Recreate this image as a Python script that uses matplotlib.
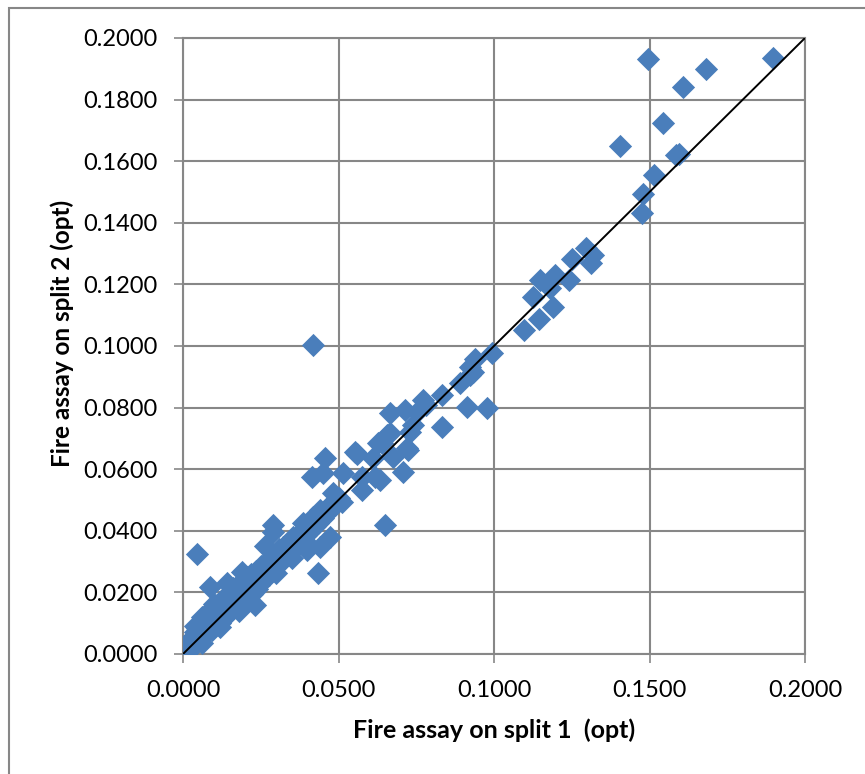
import numpy as np
import matplotlib.pyplot as plt
from matplotlib.patches import Rectangle

# split 1 / split 2 fire assay values (opt)
# dense band near the 1:1 line
low_x = [0.0000, 0.0005, 0.0008, 0.0010, 0.0012, 0.0015, 0.0018, 0.0020, 0.0022, 0.0025,
         0.0028, 0.0030, 0.0033, 0.0035, 0.0038, 0.0040, 0.0043, 0.0045, 0.0048, 0.0050,
         0.0053, 0.0055, 0.0058, 0.0060, 0.0063, 0.0065, 0.0068, 0.0070, 0.0073, 0.0075,
         0.0078, 0.0080, 0.0083, 0.0085, 0.0088, 0.0090, 0.0093, 0.0095, 0.0098, 0.0100,
         0.0103, 0.0105, 0.0108, 0.0110, 0.0113, 0.0115, 0.0118, 0.0120, 0.0123, 0.0125,
         0.0128, 0.0130, 0.0133, 0.0135, 0.0138, 0.0140, 0.0143, 0.0145, 0.0148, 0.0150,
         0.0155, 0.0160, 0.0163, 0.0165, 0.0170, 0.0175, 0.0178, 0.0180, 0.0185, 0.0190,
         0.0193, 0.0195, 0.0200, 0.0205, 0.0208, 0.0210, 0.0215, 0.0220, 0.0223, 0.0225,
         0.0230, 0.0235, 0.0238, 0.0240, 0.0245, 0.0250, 0.0255, 0.0260, 0.0265, 0.0270,
         0.0275, 0.0280, 0.0285, 0.0290, 0.0295, 0.0300, 0.0305, 0.0310, 0.0315, 0.0320,
         0.0325, 0.0330, 0.0335, 0.0340, 0.0345, 0.0350, 0.0355, 0.0360, 0.0365, 0.0370,
         0.0375, 0.0380, 0.0385, 0.0390, 0.0395, 0.0400, 0.0405, 0.0410, 0.0415, 0.0420,
         0.0425, 0.0430, 0.0435, 0.0440, 0.0450, 0.0460, 0.0470, 0.0480, 0.0490, 0.0500,
         0.0060, 0.0120, 0.0180, 0.0231, 0.0300, 0.0350, 0.0400, 0.0040, 0.0100, 0.0160]
low_y = [0.0002, 0.0010, 0.0003, 0.0018, 0.0006, 0.0025, 0.0012, 0.0035, 0.0015, 0.0042,
         0.0020, 0.0052, 0.0028, 0.0060, 0.0032, 0.0070, 0.0040, 0.0085, 0.0045, 0.0075,
         0.0050, 0.0100, 0.0060, 0.0120, 0.0065, 0.0090, 0.0075, 0.0110, 0.0080, 0.0125,
         0.0070, 0.0105, 0.0085, 0.0140, 0.0095, 0.0118, 0.0078, 0.0130, 0.0100, 0.0150,
         0.0090, 0.0120, 0.0105, 0.0160, 0.0115, 0.0135, 0.0100, 0.0170, 0.0125, 0.0145,
         0.0115, 0.0180, 0.0135, 0.0160, 0.0125, 0.0190, 0.0145, 0.0170, 0.0135, 0.0200,
         0.0155, 0.0210, 0.0150, 0.0185, 0.0165, 0.0220, 0.0160, 0.0195, 0.0175, 0.0235,
         0.0170, 0.0210, 0.0190, 0.0250, 0.0185, 0.0225, 0.0200, 0.0260, 0.0195, 0.0235,
         0.0215, 0.0270, 0.0210, 0.0250, 0.0225, 0.0285, 0.0240, 0.0265, 0.0250, 0.0300,
         0.0255, 0.0285, 0.0270, 0.0320, 0.0285, 0.0300, 0.0290, 0.0340, 0.0305, 0.0320,
         0.0310, 0.0355, 0.0325, 0.0340, 0.0330, 0.0370, 0.0345, 0.0360, 0.0350, 0.0385,
         0.0365, 0.0380, 0.0370, 0.0405, 0.0385, 0.0400, 0.0395, 0.0425, 0.0405, 0.0430,
         0.0415, 0.0445, 0.0425, 0.0450, 0.0440, 0.0470, 0.0465, 0.0490, 0.0485, 0.0505,
         0.0035, 0.0088, 0.0140, 0.0159, 0.0262, 0.0312, 0.0362, 0.0092, 0.0162, 0.0215]

# scattered points, mid and upper range plus outliers
high_x = [0.0046, 0.0087, 0.0141, 0.0189, 0.0264, 0.0290, 0.0290, 0.0355, 0.0323, 0.0398,
          0.0441, 0.0435, 0.0473, 0.0414, 0.0418, 0.0387, 0.0419, 0.0467, 0.0441, 0.0483,
          0.0510, 0.0457, 0.0451, 0.0553, 0.0560, 0.0515, 0.0575, 0.0575, 0.0617, 0.0633,
          0.0612, 0.0628, 0.0639, 0.0655, 0.0666, 0.0666, 0.0676, 0.0650, 0.0708, 0.0714,
          0.0719, 0.0725, 0.0730, 0.0741, 0.0751, 0.0773, 0.0780, 0.0832, 0.0832, 0.0891,
          0.0923, 0.0933, 0.0939, 0.0923, 0.0993, 0.0912, 0.0977, 0.1096, 0.1146, 0.1126,
          0.1191, 0.1148, 0.1180, 0.1196, 0.1242, 0.1250, 0.1296, 0.1311, 0.1318, 0.1475,
          0.1480, 0.1516, 0.1585, 0.1595, 0.1405, 0.1544, 0.1607, 0.1682, 0.1496, 0.1896]
high_y = [0.0325, 0.0217, 0.0230, 0.0267, 0.0351, 0.0419, 0.0396, 0.0381, 0.0348, 0.0338,
          0.0348, 0.0263, 0.0381, 0.0576, 0.1002, 0.0424, 0.0446, 0.0468, 0.0468, 0.0522,
          0.0494, 0.0635, 0.0587, 0.0657, 0.0650, 0.0587, 0.0576, 0.0532, 0.0576, 0.0565,
          0.0635, 0.0684, 0.0684, 0.0711, 0.0717, 0.0781, 0.0641, 0.0419, 0.0592, 0.0792,
          0.0668, 0.0662, 0.0722, 0.0744, 0.0787, 0.0825, 0.0810, 0.0841, 0.0738, 0.0879,
          0.0906, 0.0917, 0.0957, 0.0933, 0.0976, 0.0801, 0.0798, 0.1052, 0.1089, 0.1158,
          0.1126, 0.1214, 0.1187, 0.1231, 0.1214, 0.1281, 0.1317, 0.1271, 0.1296, 0.1433,
          0.1494, 0.1555, 0.1620, 0.1625, 0.1649, 0.1725, 0.1840, 0.1899, 0.1931, 0.1934]

split1 = low_x + high_x
split2 = low_y + high_y

y_ticks = np.arange(0, 0.2001, 0.02)
x_ticks = np.arange(0, 0.2001, 0.05)

plt.rcParams['font.family'] = ['Lato', 'DejaVu Sans']

fig = plt.figure(figsize=(8.65, 7.74), dpi=100)
ax = fig.add_axes([183/865, 1 - 654/774, 622/865, 616/774])

grey = '#878787'
ax.scatter(split1, split2, marker='D', s=140, color='#4a7ebb', linewidths=0, zorder=3)
ax.plot([0, 0.2], [0, 0.2], color='black', lw=1.4, zorder=4)

ax.set_xlim(0, 0.2)
ax.set_ylim(0, 0.2)
ax.set_xticks(x_ticks)
ax.set_yticks(y_ticks)
ax.set_xticklabels(['%.4f' % v for v in x_ticks])
ax.set_yticklabels(['%.4f' % v for v in y_ticks])
ax.grid(True, color=grey, lw=1.5)
ax.set_axisbelow(True)
for s in ax.spines.values():
    s.set_color(grey)
    s.set_linewidth(1.5)
ax.tick_params(direction='out', length=6.5, width=1.2, color=grey, labelsize=17, pad=12)

fig.text(494/865, 1 - 730/774, 'Fire assay on split 1  (opt)', ha='center', va='center',
         fontsize=18, fontweight='bold')
fig.text(62/865, 1 - 333/774, 'Fire assay on split 2 (opt)', ha='center', va='center',
         fontsize=17.5, fontweight='bold', rotation=90)

# chart border
fig.patches.append(Rectangle((9/865, -0.05), 1.1, 1 - 8/774 + 0.05, transform=fig.transFigure,
                             fill=False, edgecolor=grey, lw=1.5))

fig.savefig('out.png', dpi=100, facecolor='white')
